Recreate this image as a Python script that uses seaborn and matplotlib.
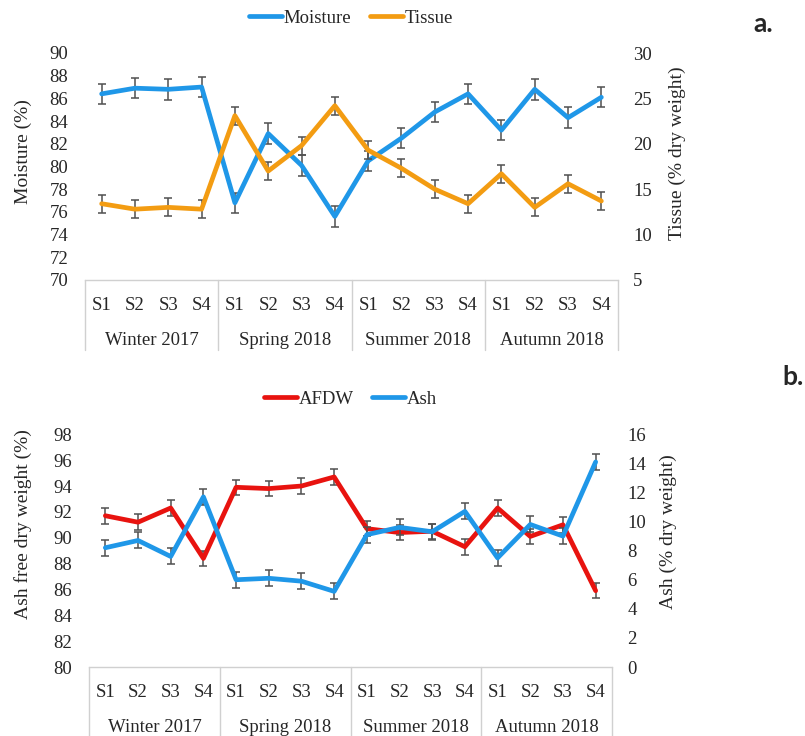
import matplotlib
matplotlib.use("Agg")
import matplotlib.pyplot as plt
from matplotlib.lines import Line2D
from matplotlib import transforms
import numpy as np
import seaborn as sns

# ---- data ---------------------------------------------------------------
seasons = ["Winter 2017", "Spring 2018", "Summer 2018", "Autumn 2018"]
sampling = ["S1", "S2", "S3", "S4"]

moisture = [86.4, 86.9, 86.8, 87.0, 76.8, 82.9, 80.1, 75.6,
            80.5, 82.5, 84.8, 86.4, 83.2, 86.8, 84.3, 86.1]
moisture_err = [0.9, 0.9, 0.9, 0.9, 0.9, 0.9, 0.9, 0.9,
                0.9, 0.9, 0.9, 0.9, 0.9, 0.9, 0.9, 0.9]
tissue = [13.4, 12.8, 13.0, 12.8, 23.1, 17.0, 19.8, 24.2,
          19.3, 17.3, 15.0, 13.4, 16.7, 13.0, 15.6, 13.7]
tissue_err = [1.0, 1.0, 1.0, 1.0, 1.0, 1.0, 1.0, 1.0,
              1.0, 1.0, 1.0, 1.0, 1.0, 1.0, 1.0, 1.0]

afdw = [91.7, 91.2, 92.3, 88.4, 93.9, 93.8, 94.0, 94.7,
        90.7, 90.4, 90.5, 89.3, 92.3, 90.1, 91.0, 85.9]
afdw_err = [0.6, 0.6, 0.6, 0.6, 0.6, 0.6, 0.6, 0.6,
            0.6, 0.6, 0.6, 0.6, 0.6, 0.6, 0.6, 0.6]
ash = [8.2, 8.7, 7.6, 11.7, 6.0, 6.1, 5.9, 5.2,
       9.1, 9.6, 9.3, 10.7, 7.5, 9.8, 9.0, 14.1]
ash_err = [0.55, 0.55, 0.55, 0.55, 0.55, 0.55, 0.55, 0.55,
           0.55, 0.55, 0.55, 0.55, 0.55, 0.55, 0.55, 0.55]

# ---- style --------------------------------------------------------------
sns.set_style("white")
plt.rcParams["font.family"] = ["Liberation Serif", "DejaVu Serif"]
plt.rcParams["font.size"] = 13.5

BLUE = "#1F97E8"
ORANGE = "#F39C12"
RED = "#E8130F"
ERR = "#505050"
AXIS_GRAY = "#D0D0D0"
LW = 3.4
LABEL_SIZE = 14

positions = np.arange(len(seasons) * len(sampling))
tick_labels = sampling * len(seasons)

fig = plt.figure(figsize=(8.05, 7.36), dpi=100)


def draw_series(ax, y, err, color):
    ax.errorbar(positions, y, yerr=err, fmt="none", ecolor=ERR,
                elinewidth=1.1, capsize=2.8, capthick=1.1, zorder=2)
    sns.lineplot(x=positions, y=y, ax=ax, color=color, linewidth=LW,
                 zorder=3, legend=False)


def category_axis(ax, sep_depth, label_y):
    ax.set_xlim(-0.5, len(positions) - 0.5)
    ax.set_xticks(positions, labels=tick_labels)
    ax.tick_params(axis="x", length=0, pad=12)
    for side in ("top", "left", "right"):
        ax.spines[side].set_visible(False)
    ax.spines["bottom"].set_color(AXIS_GRAY)
    ax.spines["bottom"].set_linewidth(1.0)
    trans = transforms.blended_transform_factory(ax.transData, ax.transAxes)
    n = len(sampling)
    for k in range(len(seasons) + 1):
        xb = k * n - 0.5
        ax.add_line(Line2D([xb, xb], [0, -sep_depth], transform=trans,
                           color=AXIS_GRAY, lw=1.0, clip_on=False))
    for k, s in enumerate(seasons):
        ax.text(k * n + (n - 1) / 2, label_y, s, transform=trans,
                ha="center", va="baseline")


def value_axes(ax, ax2, ylim, yticks, ylim2, yticks2):
    ax.set_ylim(*ylim)
    ax.set_yticks(yticks)
    ax.tick_params(axis="y", length=0, pad=12)
    ax2.set_ylim(*ylim2)
    ax2.set_yticks(yticks2)
    ax2.tick_params(axis="y", length=0, pad=11)
    for side in ("top", "left", "right", "bottom"):
        ax2.spines[side].set_visible(False)
    ax.grid(False)
    ax2.grid(False)


def side_labels(ax, ax2, left, right, left_xy, right_xy):
    ax.set_ylabel(left, fontsize=LABEL_SIZE)
    ax.yaxis.label.set_va("center")
    ax.yaxis.set_label_coords(*left_xy)
    ax2.set_ylabel(right, fontsize=LABEL_SIZE)
    ax2.yaxis.label.set_va("center")
    ax2.yaxis.set_label_coords(*right_xy)


# ---- panel a: moisture and tissue -------------------------------------
axa = fig.add_axes([85 / 805, 1 - 280 / 736, 533 / 805, 227 / 736])
axa2 = axa.twinx()
draw_series(axa, moisture, moisture_err, BLUE)
draw_series(axa2, tissue, tissue_err, ORANGE)
value_axes(axa, axa2, (70, 90), np.arange(70, 91, 2), (5, 30), np.arange(5, 31, 5))
category_axis(axa, 0.308, -0.2863)
side_labels(axa, axa2, "Moisture (%)", "Tissue (% dry weight)",
            (-0.1163, 0.564), (1.1107, 0.557))

fig.legend(handles=[Line2D([], [], color=BLUE, lw=LW, label="Moisture"),
                    Line2D([], [], color=ORANGE, lw=LW, label="Tissue")],
           loc="center", bbox_to_anchor=(351 / 805, 1 - 18 / 736), ncol=2,
           frameon=False, handlelength=1.75, handletextpad=0.1,
           columnspacing=1.0, borderpad=0)

# ---- panel b: AFDW and ash --------------------------------------------
axb = fig.add_axes([89 / 805, 1 - 667 / 736, 523 / 805, 232.7 / 736])
axb2 = axb.twinx()
draw_series(axb, afdw, afdw_err, RED)
draw_series(axb2, ash, ash_err, BLUE)
value_axes(axb, axb2, (80, 98), np.arange(80, 99, 2), (0, 16), np.arange(0, 17, 2))
category_axis(axb, 0.30, -0.278)
side_labels(axb, axb2, "Ash free dry weight (%)", "Ash (% dry weight)",
            (-0.1262, 0.615), (1.107, 0.582))

fig.legend(handles=[Line2D([], [], color=RED, lw=LW, label="AFDW"),
                    Line2D([], [], color=BLUE, lw=LW, label="Ash")],
           loc="center", bbox_to_anchor=(350.5 / 805, 1 - 399 / 736), ncol=2,
           frameon=False, handlelength=1.75, handletextpad=0.1,
           columnspacing=1.0, borderpad=0)

# ---- panel letters ------------------------------------------------------
fig.text(763 / 805, 1 - 24 / 736, "a.", ha="center", va="center",
         fontsize=19, fontweight="bold", family=["Lato", "DejaVu Sans"])
fig.text(793 / 805, 1 - 377 / 736, "b.", ha="center", va="center",
         fontsize=19, fontweight="bold", family=["Lato", "DejaVu Sans"])

fig.savefig("out.png", dpi=100)
